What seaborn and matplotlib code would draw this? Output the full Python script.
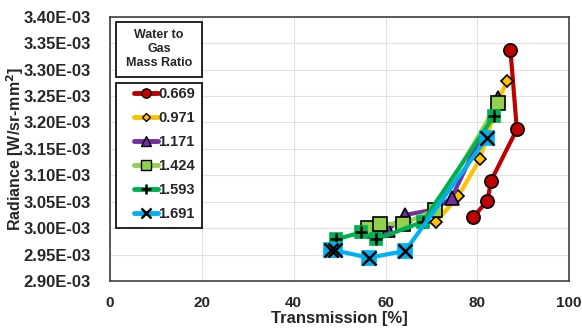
import numpy as np
import pandas as pd
import seaborn as sns
import matplotlib.pyplot as plt
from matplotlib.lines import Line2D
from matplotlib.patches import Rectangle
from matplotlib.ticker import FuncFormatter

# data (transmission %, radiance W/sr-mm2)
ratios = ["0.669", "0.971", "1.171", "1.424", "1.593", "1.691"]

t_0669 = [79.1, 82.2, 83.0, 88.6, 87.2]
r_0669 = [3.021e-3, 3.052e-3, 3.090e-3, 3.187e-3, 3.338e-3]

t_0971 = [70.9, 75.8, 80.5, 84.5, 86.4]
r_0971 = [3.011e-3, 3.060e-3, 3.130e-3, 3.240e-3, 3.278e-3]

t_1171 = [57.5, 60.5, 64.2, 70.5, 74.4, 84.6]
r_1171 = [2.995e-3, 2.997e-3, 3.025e-3, 3.035e-3, 3.057e-3, 3.246e-3]

t_1424 = [56.2, 58.9, 63.8, 70.7, 84.4]
r_1424 = [3.000e-3, 3.008e-3, 3.008e-3, 3.034e-3, 3.236e-3]

t_1593 = [49.3, 54.7, 58.0, 68.1, 83.7]
r_1593 = [2.979e-3, 2.992e-3, 2.979e-3, 3.012e-3, 3.213e-3]

t_1691 = [48.2, 48.9, 56.4, 64.3, 82.1]
r_1691 = [2.958e-3, 2.958e-3, 2.944e-3, 2.957e-3, 3.171e-3]

colors = ["#C00000", "#FFC000", "#7030A0", "#92D050", "#00B050", "#00B0F0"]

series = [(t_0669, r_0669), (t_0971, r_0971), (t_1171, r_1171),
          (t_1424, r_1424), (t_1593, r_1593), (t_1691, r_1691)]

sns.set_theme(style="whitegrid")
plt.rcParams["font.family"] = ["Liberation Sans", "DejaVu Sans"]
plt.rcParams["font.weight"] = "bold"

fig = plt.figure(figsize=(5.82, 3.34), dpi=100)
ax = fig.add_axes([0.189, 0.1587, 0.789, 0.791])

# marker style per series: (marker, size, face, edge, overlay)
styles = [
    ("o", 9.5, colors[0], "black", None),
    ("D", 6.5, colors[1], "black", None),
    ("^", 9.5, colors[2], "black", None),
    ("s", 9.5, colors[3], "black", None),
    ("s", 9.0, colors[4], colors[4], "+"),
    ("s", 9.5, colors[5], colors[5], "x"),
]

handles = []
for (t, r), lab, col, st in zip(series, ratios, colors, styles):
    df = pd.DataFrame({"t": t, "r": r})
    mk, ms, fc, ec, over = st
    sns.lineplot(data=df, x="t", y="r", sort=False, estimator=None, ax=ax,
                 color=col, lw=3, marker=mk, markersize=ms,
                 markerfacecolor=fc, markeredgecolor=ec, markeredgewidth=1.2)
    if over:
        ax.plot(t, r, ls="none", marker=over, markersize=ms,
                color="black", markeredgewidth=1.8)
        handles.append(Line2D([], [], color=col, lw=3.5, marker=over,
                              markersize=7, markeredgecolor="black",
                              markeredgewidth=1.8, label=lab))
    else:
        handles.append(Line2D([], [], color=col, lw=3.5, marker=mk,
                              markersize=ms * 0.7, markerfacecolor=fc,
                              markeredgecolor="black", markeredgewidth=1.0,
                              label=lab))

ax.set_xlim(0, 100)
ax.set_ylim(2.90e-3, 3.40e-3)
ax.set_xticks(np.arange(0, 101, 20))
ax.set_yticks(np.arange(2.90e-3, 3.401e-3, 0.05e-3))
ax.yaxis.set_major_formatter(FuncFormatter(lambda v, p: f"{v:.2E}"))
ax.tick_params(labelsize=11, length=0)
ax.tick_params(axis="x", pad=11)
ax.tick_params(axis="y", labelsize=12, pad=14)
for lbl in ax.get_xticklabels() + ax.get_yticklabels():
    lbl.set_fontweight("bold")

ax.grid(True, color="#E0E0E0", lw=0.8)
for s in ax.spines.values():
    s.set_color("#404040")
    s.set_linewidth(1.2)

ax.set_xlabel("Transmission [%]", fontsize=12, fontweight="bold")
ax.set_ylabel("Radiance [W/sr-mm$^\\mathbf{2}$]", fontsize=11.5, fontweight="bold")
ax.xaxis.set_label_coords(0.5, -0.115)
ax.yaxis.set_label_coords(-0.182, 0.5)

# legend title in its own box
ax.add_patch(Rectangle((0.013, 0.773), 0.187, 0.208, transform=ax.transAxes,
                       fc="white", ec="black", lw=1.2, zorder=5))
ax.text(0.1065, 0.877, "Water to\nGas\nMass Ratio", transform=ax.transAxes,
        ha="center", va="center", fontsize=9, fontweight="bold",
        linespacing=1.2, zorder=6)

# legend frame drawn separately so the entries sit centred in it
ax.add_patch(Rectangle((0.013, 0.2008), 0.187, 0.549, transform=ax.transAxes,
                       fc="white", ec="black", lw=1.2, zorder=5))
leg = ax.legend(handles=handles, loc="upper left",
                bbox_to_anchor=(0.0436, 0.75), frameon=False,
                prop={"weight": "bold", "size": 10.5}, handlelength=1.6,
                handletextpad=0.05, labelspacing=0.68, borderpad=0.3,
                borderaxespad=0)
leg.set_zorder(6)

fig.savefig("out.png", dpi=100)
